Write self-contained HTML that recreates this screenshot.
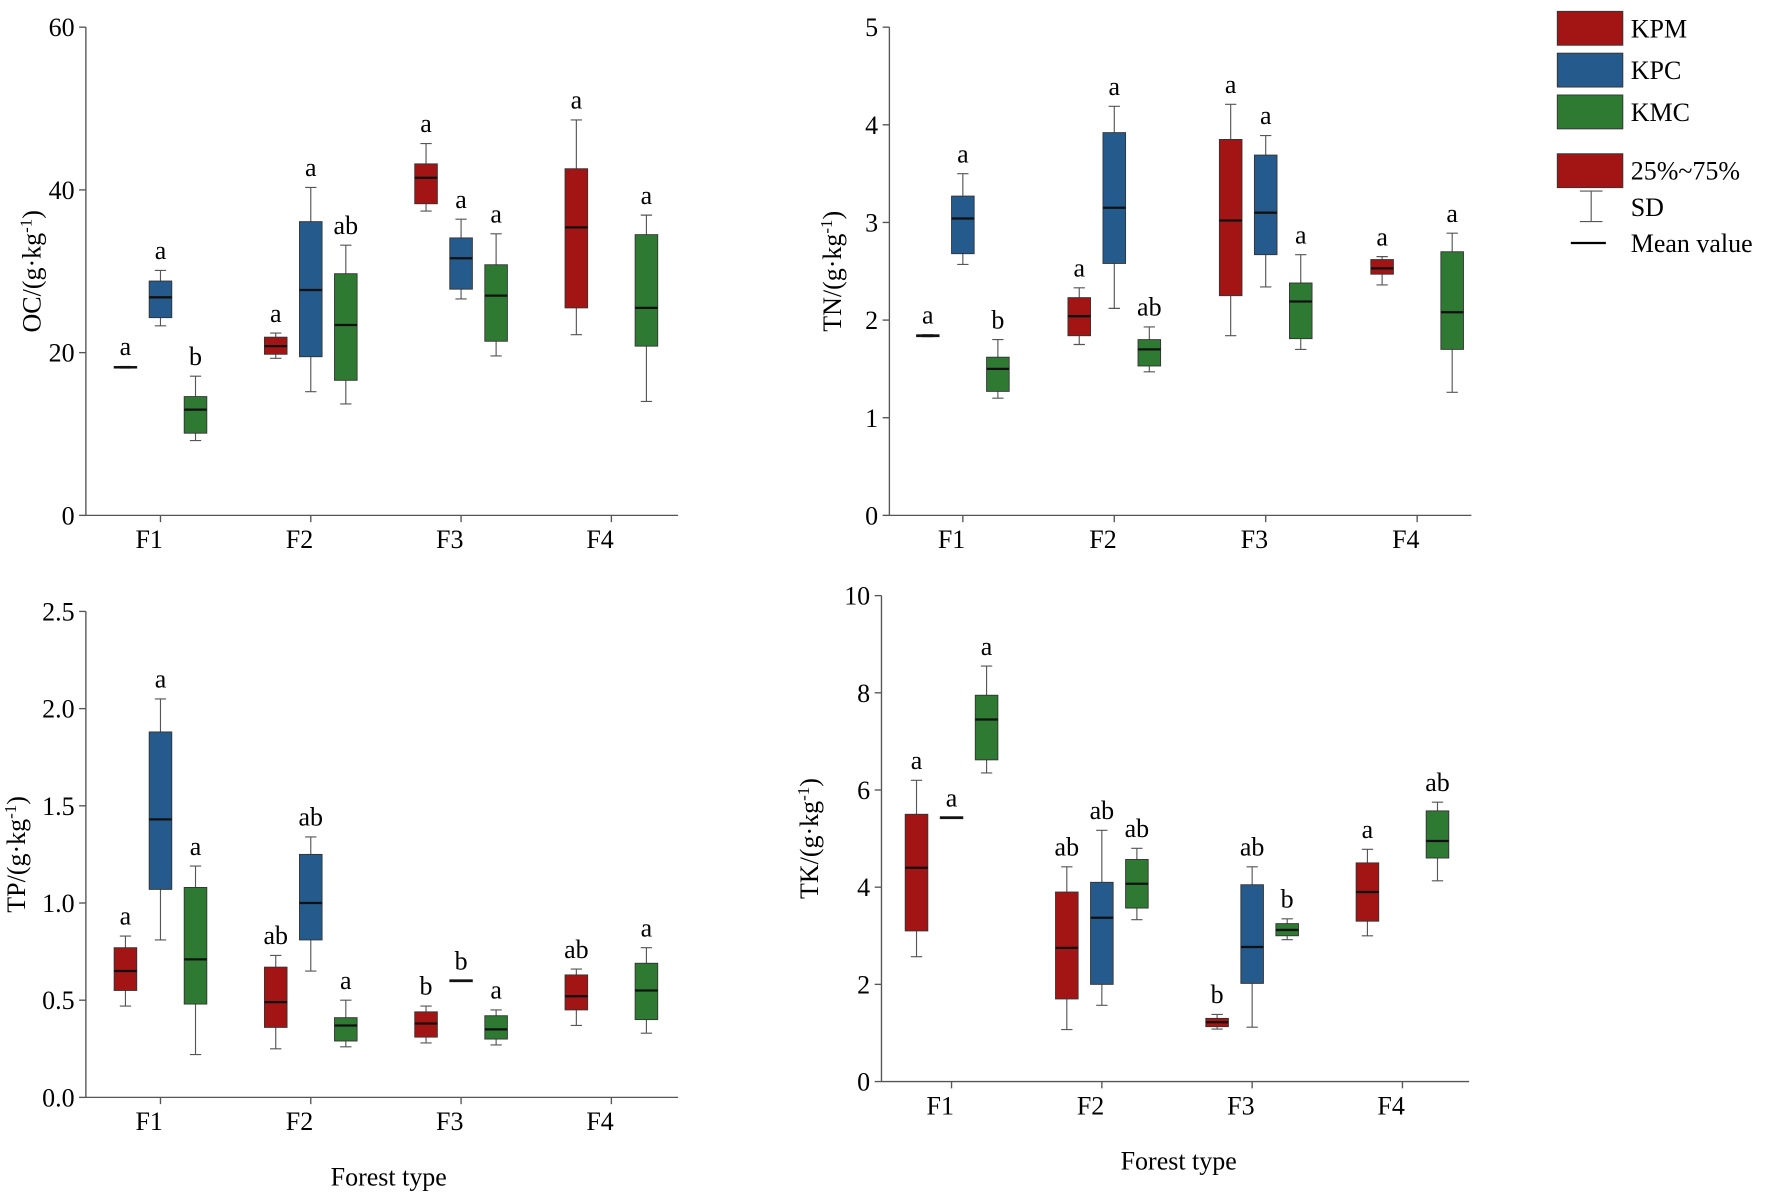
<!DOCTYPE html>
<html><head><meta charset="utf-8"><style>
html,body{margin:0;padding:0;background:#fff;}
svg, svg text{font-family:"Liberation Serif","DejaVu Serif",serif !important;}
</style></head><body>
<svg id="chart" width="1772" height="1198" viewBox="0 0 1568 1060" font-family="Liberation Serif, DejaVu Serif, serif" xmlns="http://www.w3.org/2000/svg">
<g>
<rect x="1378" y="10" width="58" height="30" fill="#a31515" stroke="#333" stroke-width="0.8"/>
<text x="1443" y="33" font-size="23">KPM</text>
<rect x="1378" y="47" width="58" height="30" fill="#255a8c" stroke="#333" stroke-width="0.8"/>
<text x="1443" y="70" font-size="23">KPC</text>
<rect x="1378" y="84" width="58" height="30" fill="#2f7a33" stroke="#333" stroke-width="0.8"/>
<text x="1443" y="107" font-size="23">KMC</text>
<rect x="1378" y="136" width="58" height="30" fill="#a31515" stroke="#333" stroke-width="0.8"/>
<text x="1443" y="159" font-size="23">25%~75%</text>
<path d="M1398 169H1418M1408 169V196M1398 196H1418" stroke="#555" stroke-width="1" fill="none"/>
<text x="1443" y="191" font-size="23">SD</text>
<line x1="1390" y1="215" x2="1421" y2="215" stroke="#000" stroke-width="2"/>
<text x="1443" y="223" font-size="23">Mean value</text>
</g>
</svg>
<script>
const categories=["F1","F2","F3","F4"];
const seriesNames=["KPM","KPC","KMC"];
// each entry: [whiskerLow, q1, mean, q3, whiskerHigh] per category per series (null = absent)
const ocKPM=[[18.1,18.1,18.2,18.3,18.3],[19.3,19.8,20.8,21.9,22.4],[37.4,38.3,41.5,43.2,45.7],[22.2,25.5,35.4,42.6,48.6]];
const ocKPC=[[23.3,24.3,26.8,28.8,30.1],[15.2,19.5,27.7,36.1,40.3],[26.6,27.8,31.6,34.1,36.4],null];
const ocKMC=[[9.2,10.1,13,14.6,17.1],[13.7,16.6,23.4,29.7,33.2],[19.6,21.4,27,30.8,34.6],[14,20.8,25.5,34.5,36.9]];
const ocLetters=[["a","a","b"],["a","a","ab"],["a","a","a"],["a",null,"a"]];
const tnKPM=[[1.83,1.83,1.84,1.85,1.85],[1.75,1.84,2.04,2.23,2.33],[1.84,2.25,3.02,3.85,4.21],[2.36,2.47,2.53,2.62,2.65]];
const tnKPC=[[2.57,2.68,3.04,3.27,3.5],[2.12,2.58,3.15,3.92,4.19],[2.34,2.67,3.1,3.69,3.89],null];
const tnKMC=[[1.2,1.27,1.5,1.62,1.8],[1.47,1.53,1.7,1.8,1.93],[1.7,1.81,2.19,2.38,2.67],[1.26,1.7,2.08,2.7,2.89]];
const tnLetters=[["a","a","b"],["a","a","ab"],["a","a","a"],["a",null,"a"]];
const tpKPM=[[0.47,0.55,0.65,0.77,0.83],[0.25,0.36,0.49,0.67,0.73],[0.28,0.31,0.38,0.44,0.47],[0.37,0.45,0.52,0.63,0.66]];
const tpKPC=[[0.81,1.07,1.43,1.88,2.05],[0.65,0.81,1.0,1.25,1.34],[0.6,0.595,0.6,0.605,0.6],null];
const tpKMC=[[0.22,0.48,0.71,1.08,1.19],[0.26,0.29,0.37,0.41,0.5],[0.27,0.3,0.35,0.42,0.45],[0.33,0.4,0.55,0.69,0.77]];
const tpLetters=[["a","a","a"],["ab","ab","a"],["b","b","a"],["ab",null,"a"]];
const tkKPM=[[2.57,3.1,4.4,5.5,6.2],[1.07,1.7,2.75,3.9,4.42],[1.08,1.13,1.22,1.3,1.38],[3.0,3.3,3.9,4.5,4.78]];
const tkKPC=[[5.43,5.41,5.43,5.45,5.43],[1.57,2.0,3.37,4.1,5.17],[1.12,2.02,2.77,4.05,4.42],null];
const tkKMC=[[6.35,6.62,7.45,7.95,8.55],[3.33,3.57,4.07,4.57,4.8],[2.92,3.0,3.12,3.25,3.35],[4.13,4.6,4.95,5.57,5.75]];
const tkLetters=[["a","a","a"],["ab","ab","ab"],["b","ab","b"],["a",null,"ab"]];
const ocTicks=[0,20,40,60];
const tnTicks=[0,1,2,3,4,5];
const tpTicks=["0.0","0.5","1.0","1.5","2.0","2.5"];
const tkTicks=[0,2,4,6,8,10];

const NS="http://www.w3.org/2000/svg";
const svg=document.getElementById("chart");
const colors=["#a31515","#255a8c","#2f7a33"];
const FF="Liberation Serif, DejaVu Serif, serif";
function mk(tag,attrs,parent){const e=document.createElementNS(NS,tag);for(const k in attrs)e.setAttribute(k,attrs[k]);if(tag==="text")e.setAttribute("font-family",FF);parent.appendChild(e);return e;}

function panel(cfg){
  const g=mk("g",{},svg);
  
  
  const ymax=parseFloat(cfg.ticks[cfg.ticks.length-1]);
  const yS=v=>cfg.bottom-(v/ymax)*(cfg.bottom-cfg.top);
  const xS=i=>cfg.x0+i*cfg.step;
  const ax=mk("line",{x1:cfg.axisX,y1:cfg.top,x2:cfg.axisX,y2:cfg.bottom,stroke:"#555","stroke-width":1.2},g);
  
  
  const bx=mk("line",{x1:cfg.axisX,y1:cfg.bottom,x2:cfg.axisEnd,y2:cfg.bottom,stroke:"#555","stroke-width":1.2},g);
  
  
  cfg.ticks.forEach(t=>{
    const y=yS(parseFloat(t));
    mk("line",{x1:cfg.axisX-6,y1:y,x2:cfg.axisX,y2:y,stroke:"#555","stroke-width":1.2},g);
    const tx=mk("text",{x:cfg.axisX-10,y:y+8,"font-size":23,"text-anchor":"end"},g);
    
    
    tx.textContent=String(t);
  });
  categories.forEach((c,i)=>{
    const x=xS(i);
    mk("line",{x1:x,y1:cfg.bottom,x2:x,y2:cfg.bottom+6,stroke:"#555","stroke-width":1.2},g);
    const tx=mk("text",{x:x-10,y:cfg.bottom+29,"font-size":23,"text-anchor":"middle"},g);
    
    
    tx.textContent=c;
  });
  const yl=mk("text",{x:0,y:0,"font-size":23,"text-anchor":"middle",transform:`translate(${cfg.labelX},${(cfg.top+cfg.bottom)/2}) rotate(-90)`},g);
  
  
  yl.innerHTML="<tspan>"+cfg.label+"/(g·kg</tspan><tspan dy='-8' font-size='15'>-1</tspan><tspan dy='8'>)</tspan>";
  if(cfg.xTitle){
    const xt=mk("text",{x:cfg.xTitle[0],y:cfg.xTitle[1],"font-size":23,"text-anchor":"middle"},g);
    
    
    xt.textContent="Forest type";
  }
  cfg.series.forEach((ser,s)=>{
    ser.forEach((d,i)=>{
      if(!d)return;
      const cx=xS(i)+(s-1)*cfg.off, w=20;
      const bg=mk("g",{},g);
      
      
      const [lo,q1,m,q3,hi]=d;
      mk("path",{d:`M${cx-5} ${yS(hi)}H${cx+5}M${cx} ${yS(hi)}V${yS(q3)}M${cx} ${yS(q1)}V${yS(lo)}M${cx-5} ${yS(lo)}H${cx+5}`,stroke:"#555","stroke-width":1,fill:"none"},bg);
      const h=Math.max(1,yS(q1)-yS(q3));
      mk("rect",{x:cx-w/2,y:yS(q3),width:w,height:h,fill:colors[s],stroke:"#333","stroke-width":0.8},bg);
      mk("line",{x1:cx-w/2,y1:yS(m),x2:cx+w/2,y2:yS(m),stroke:"#111","stroke-width":2},bg);
      const L=cfg.letters[i][s];
      if(L){
        const t=mk("text",{x:cx,y:yS(hi)-10,"font-size":23,"text-anchor":"middle"},bg);
        
        
        t.textContent=L;
      }
    });
  });
}
panel({name:"oc",top:24,bottom:456,axisX:76,axisEnd:600,x0:142,step:133,off:31,ticks:ocTicks,label:"OC",labelX:36,series:[ocKPM,ocKPC,ocKMC],letters:ocLetters});
panel({name:"tn",top:24,bottom:456,axisX:787,axisEnd:1302,x0:852,step:134,off:31,ticks:tnTicks,label:"TN",labelX:744,series:[tnKPM,tnKPC,tnKMC],letters:tnLetters});
panel({name:"tp",top:541,bottom:971,axisX:76,axisEnd:600,x0:142,step:133,off:31,ticks:tpTicks,label:"TP",labelX:22,series:[tpKPM,tpKPC,tpKMC],letters:tpLetters,xTitle:[344,1049]});
panel({name:"tk",top:527,bottom:957,axisX:780,axisEnd:1300,x0:842,step:133,off:31,ticks:tkTicks,label:"TK",labelX:724,series:[tkKPM,tkKPC,tkKMC],letters:tkLetters,xTitle:[1043,1035]});
</script>
</body></html>
